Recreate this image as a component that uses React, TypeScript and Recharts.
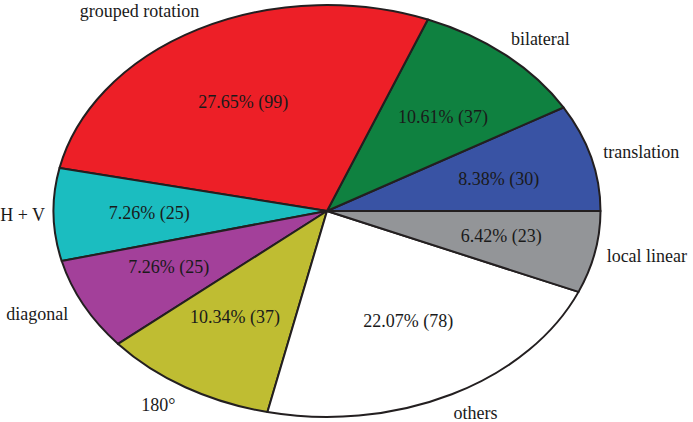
import React from 'react';
import { PieChart, Pie, Cell } from 'recharts';

const categories = ['translation', 'bilateral', 'grouped rotation', 'H + V', 'diagonal', '180°', 'others', 'local linear'];
const percentages = [8.38, 10.61, 27.65, 7.26, 7.26, 10.34, 22.07, 6.42];
const counts = [30, 37, 99, 25, 25, 37, 78, 23];
const colors = ['#3953a4', '#0f8140', '#ed1f27', '#1bbdc0', '#a3409a', '#bfbd32', '#ffffff', '#939598'];

const W = 693;
const H = 422;
const CX = 327;
const CY = 211;
const RY = 206;
const ASPECT = 273.5 / 206;
const FONT = "'Liberation Serif', 'Times New Roman', serif";
const FS = 18;
const STROKE = '#231f20';

const data = categories.map((name, i) => ({ name, value: percentages[i], count: counts[i] }));

let ctx: CanvasRenderingContext2D | null = null;
const measure = (t: string) => {
  if (!ctx && typeof document !== 'undefined') {
    ctx = document.createElement('canvas').getContext('2d');
  }
  if (!ctx) return t.length * FS * 0.45;
  ctx.font = `${FS}px ${FONT}`;
  return ctx.measureText(t).width;
};

const EllipseSector = (props: any) => {
  const { cx, cy, outerRadius, startAngle, endAngle, fill } = props;
  const rx = outerRadius * ASPECT;
  const ry = outerRadius;
  const a0 = (Math.min(startAngle, endAngle) * Math.PI) / 180;
  const a1 = (Math.max(startAngle, endAngle) * Math.PI) / 180;
  const p0 = [cx + rx * Math.cos(a0), cy - ry * Math.sin(a0)];
  const p1 = [cx + rx * Math.cos(a1), cy - ry * Math.sin(a1)];
  const large = Math.abs(endAngle - startAngle) > 180 ? 1 : 0;
  const d = `M${cx},${cy}L${p0[0]},${p0[1]}A${rx},${ry} 0 ${large} 0 ${p1[0]},${p1[1]}Z`;
  return <path d={d} fill={fill} stroke={STROKE} strokeWidth={2} strokeLinejoin="round" />;
};

const renderLabel = (props: any) => {
  const { cx, cy, midAngle, outerRadius, index } = props;
  const rx = outerRadius * ASPECT;
  const ry = outerRadius;
  const rad = (midAngle * Math.PI) / 180;
  const c = Math.cos(rad);
  const s = Math.sin(rad);
  const inner = `${percentages[index].toFixed(2)}% (${counts[index]})`;
  const ix = cx + c * rx * 0.65;
  const iy = cy - s * ry * 0.6;

  const name = categories[index];
  const w = measure(name);
  const h = FS;
  let ox = cx + c * rx * 1.19;
  const oy = cy - s * ry * 1.1;
  const pad = 1.037;
  const inside = (x: number, y: number) =>
    ((x - cx) / (rx * pad)) ** 2 + ((y - cy) / (ry * pad)) ** 2 < 1;
  for (let k = 0; k < 300; k++) {
    const nx = c < 0 ? ox + w / 2 : ox - w / 2;
    const ny = s > 0 ? oy + h / 2 : oy - h / 2;
    if (!inside(nx, ny)) break;
    ox += c < 0 ? -1 : 1;
  }
  ox = Math.max(w / 2, Math.min(W - w / 2, ox));

  return (
    <g>
      <text x={ix} y={iy} dy="0.33em" textAnchor="middle" fontFamily={FONT} fontSize={FS} fill="#1a1a1a">
        {inner}
      </text>
      <text x={ox} y={oy} dy="0.33em" textAnchor="middle" fontFamily={FONT} fontSize={FS} fill="#1a1a1a">
        {name}
      </text>
    </g>
  );
};

export default function App() {
  return (
    <div style={{ position: 'absolute', left: 0, top: 0, width: W, height: H, background: '#fff' }}>
      <PieChart width={W} height={H} margin={{ top: 0, right: 0, bottom: 0, left: 0 }}>
        <Pie
          data={data}
          dataKey="value"
          nameKey="name"
          cx={CX}
          cy={CY}
          outerRadius={RY}
          startAngle={0}
          endAngle={360}
          stroke={STROKE}
          strokeWidth={2}
          shape={EllipseSector}
          label={renderLabel}
          labelLine={false}
          isAnimationActive={false}
        >
          {data.map((d, i) => (
            <Cell key={d.name} fill={colors[i]} />
          ))}
        </Pie>
      </PieChart>
    </div>
  );
}
